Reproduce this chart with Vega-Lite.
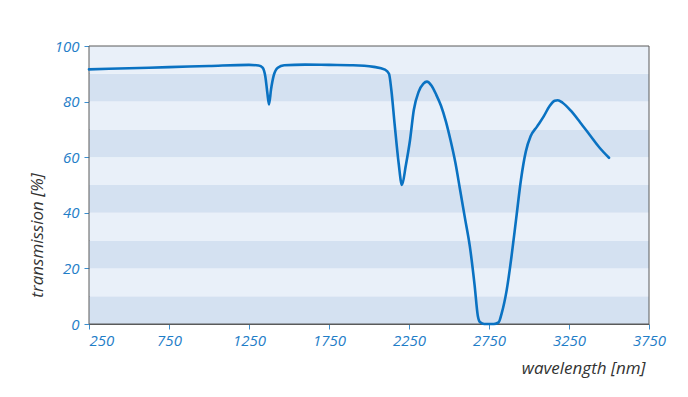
{
  "$schema": "https://vega.github.io/schema/vega-lite/v6.json",
  "autosize": "none",
  "width": 560,
  "height": 278,
  "padding": {"left": 89, "top": 46, "right": 39, "bottom": 73},
  "background": "#ffffff",
  "config": {
    "view": {"stroke": null},
    "axis": {
      "labelFont": "Open Sans",
      "labelFontStyle": "italic",
      "labelFontSize": 15,
      "labelColor": "#1f7ec8",
      "titleFont": "Open Sans",
      "titleFontStyle": "italic",
      "titleFontWeight": "normal",
      "titleFontSize": 17,
      "titleColor": "#333333",
      "domainColor": "#5a5a5a",
      "tickColor": "#3b8fd0",
      "tickSize": 5,
      "grid": false
    }
  },
  "datasets": {
    "bands": [
      {"lo": 0, "hi": 10, "shade": "dark"},
      {"lo": 10, "hi": 20, "shade": "light"},
      {"lo": 20, "hi": 30, "shade": "dark"},
      {"lo": 30, "hi": 40, "shade": "light"},
      {"lo": 40, "hi": 50, "shade": "dark"},
      {"lo": 50, "hi": 60, "shade": "light"},
      {"lo": 60, "hi": 70, "shade": "dark"},
      {"lo": 70, "hi": 80, "shade": "light"},
      {"lo": 80, "hi": 90, "shade": "dark"},
      {"lo": 90, "hi": 100, "shade": "light"}
    ],
    "frame": [
      {"x0": 250, "x1": 3750, "y0": 0, "y1": 100}
    ],
    "spectrum": [
      {"nm": 250, "t": 91.6},
      {"nm": 500, "t": 92.0},
      {"nm": 750, "t": 92.4},
      {"nm": 1000, "t": 92.8},
      {"nm": 1250, "t": 93.2},
      {"nm": 1310, "t": 93.0},
      {"nm": 1335, "t": 92.2},
      {"nm": 1352, "t": 89},
      {"nm": 1365, "t": 83},
      {"nm": 1375, "t": 79},
      {"nm": 1388, "t": 84.5},
      {"nm": 1405, "t": 89.5},
      {"nm": 1430, "t": 92.2},
      {"nm": 1470, "t": 93.1},
      {"nm": 1600, "t": 93.3},
      {"nm": 1750, "t": 93.2},
      {"nm": 1900, "t": 93.1},
      {"nm": 2030, "t": 92.5},
      {"nm": 2100, "t": 91.5},
      {"nm": 2125, "t": 90},
      {"nm": 2140, "t": 84},
      {"nm": 2160, "t": 72},
      {"nm": 2185, "t": 58},
      {"nm": 2206, "t": 50},
      {"nm": 2230, "t": 57},
      {"nm": 2256, "t": 66},
      {"nm": 2280, "t": 77},
      {"nm": 2310, "t": 83.5},
      {"nm": 2340, "t": 86.5},
      {"nm": 2362, "t": 87.2},
      {"nm": 2390, "t": 85.8},
      {"nm": 2420, "t": 82.5},
      {"nm": 2450, "t": 78.5},
      {"nm": 2480, "t": 73},
      {"nm": 2510, "t": 66},
      {"nm": 2540, "t": 58},
      {"nm": 2570, "t": 48},
      {"nm": 2600, "t": 38},
      {"nm": 2630, "t": 28},
      {"nm": 2660, "t": 14},
      {"nm": 2680, "t": 3},
      {"nm": 2695, "t": 0.6},
      {"nm": 2720, "t": 0},
      {"nm": 2780, "t": 0},
      {"nm": 2810, "t": 0.6},
      {"nm": 2830, "t": 4},
      {"nm": 2860, "t": 12},
      {"nm": 2890, "t": 24},
      {"nm": 2920, "t": 38},
      {"nm": 2950, "t": 52},
      {"nm": 2980, "t": 62},
      {"nm": 3010, "t": 67.5},
      {"nm": 3050, "t": 71},
      {"nm": 3090, "t": 74.5},
      {"nm": 3130, "t": 78.5},
      {"nm": 3160, "t": 80.3},
      {"nm": 3180, "t": 80.5},
      {"nm": 3210, "t": 79.6},
      {"nm": 3260, "t": 76.8},
      {"nm": 3320, "t": 72.5},
      {"nm": 3380, "t": 68},
      {"nm": 3440, "t": 63.5},
      {"nm": 3500, "t": 59.8}
    ]
  },
  "layer": [
    {
      "data": {"name": "bands"},
      "mark": {"type": "rect"},
      "encoding": {
        "y": {"field": "lo", "type": "quantitative", "scale": {"domain": [0, 100], "nice": false, "zero": false}},
        "y2": {"field": "hi"},
        "color": {
          "field": "shade",
          "type": "nominal",
          "scale": {"domain": ["light", "dark"], "range": ["#e9f0f9", "#d4e1f1"]},
          "legend": null
        }
      }
    },
    {
      "data": {"name": "frame"},
      "mark": {"type": "rect", "fill": null, "stroke": "#5a5a5a", "strokeWidth": 1},
      "encoding": {
        "x": {"field": "x0", "type": "quantitative", "scale": {"domain": [250, 3750], "nice": false, "zero": false}},
        "x2": {"field": "x1"},
        "y": {"field": "y0", "type": "quantitative", "scale": {"domain": [0, 100], "nice": false, "zero": false}},
        "y2": {"field": "y1"}
      }
    },
    {
      "data": {"name": "spectrum"},
      "mark": {"type": "line", "color": "#0a72c2", "strokeWidth": 2.6, "interpolate": "monotone", "strokeCap": "round", "strokeJoin": "round"},
      "encoding": {
        "x": {
          "field": "nm",
          "type": "quantitative",
          "scale": {"domain": [250, 3750], "nice": false, "zero": false},
          "axis": {
            "title": "wavelength [nm]",
            "values": [250, 750, 1250, 1750, 2250, 2750, 3250, 3750],
            "format": "d",
            "labelFlush": false,
            "labelAlign": {"expr": "datum.value == 250 ? 'left' : 'center'"},
            "labelPadding": 4,
            "titleAnchor": "end",
            "titleAlign": "right",
            "titleBaseline": "middle",
            "titleX": 556,
            "titleY": 44
          }
        },
        "y": {
          "field": "t",
          "type": "quantitative",
          "scale": {"domain": [0, 100], "nice": false, "zero": false},
          "axis": {
            "title": "transmission [%]",
            "values": [0, 10, 20, 30, 40, 50, 60, 70, 80, 90, 100],
            "labelExpr": "datum.value % 20 == 0 ? datum.label : ''",
            "labelPadding": 5,
            "titleAngle": -90,
            "titleAlign": "center",
            "titleBaseline": "middle",
            "titleX": -52,
            "titleY": 189
          }
        }
      }
    }
  ]
}
